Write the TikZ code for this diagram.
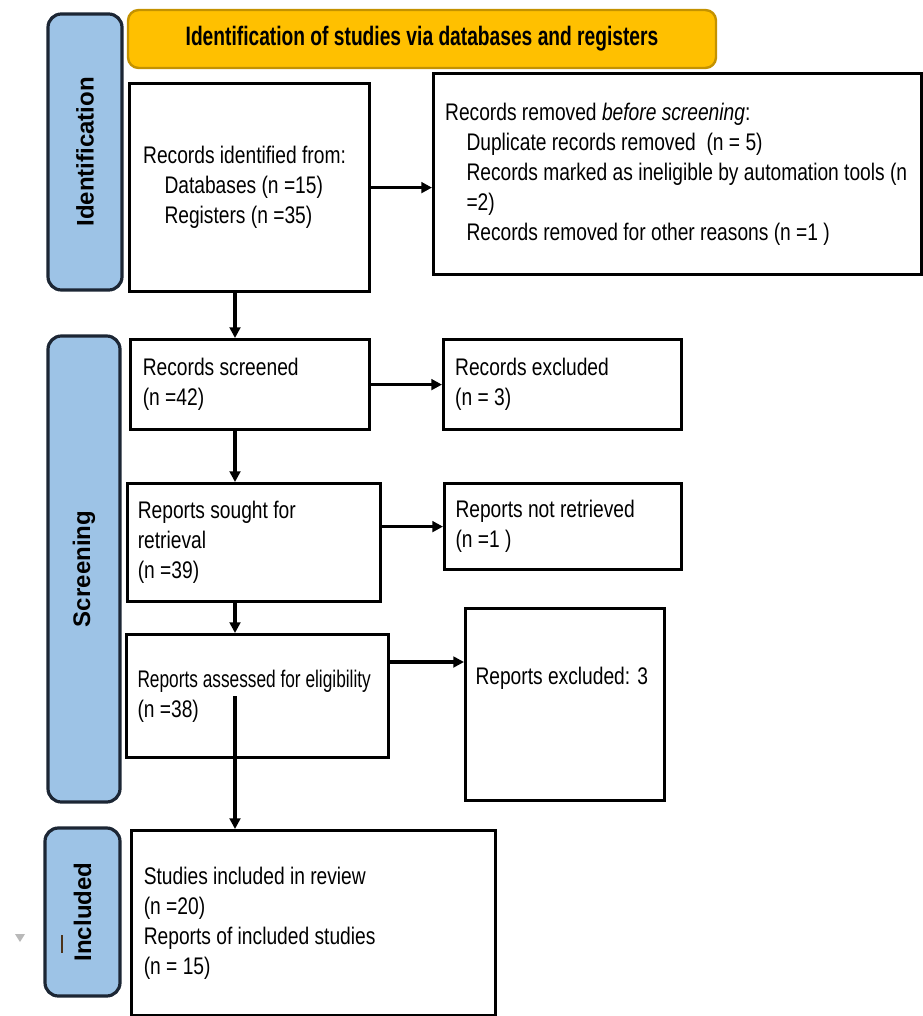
\documentclass[tikz,border=0pt]{standalone}
\usepackage{fontspec}
\setmainfont{Liberation Sans}[FakeStretch=0.8]
\newfontfamily\headfont{Liberation Sans}[FakeStretch=0.72]
\newfontfamily\tightfont{Liberation Sans}[FakeStretch=0.72]
\newfontfamily\sidefont{Liberation Sans}
\usetikzlibrary{arrows.meta,positioning}

\definecolor{sideblue}{RGB}{157,195,230}
\definecolor{sideline}{RGB}{28,38,52}
\definecolor{headgold}{RGB}{255,192,0}
\definecolor{headline}{RGB}{196,146,0}

\tikzset{every picture/.style={line width=0.75pt}}
\tikzset{
  box/.style={draw, line width=2.4pt, rectangle, anchor=north west, inner sep=0pt},
  txt/.style={anchor=west, inner sep=0pt, align=left, font=\fontsize{18}{22.5}\selectfont},
  side/.style={draw=sideline, fill=sideblue, line width=2.4pt, rounded corners=10pt, rotate=90, inner sep=0pt, font=\sidefont\bfseries\fontsize{18}{22}\selectfont},
  head/.style={draw=headline, fill=headgold, line width=1.8pt, rounded corners=8pt, inner sep=0pt, font=\headfont\bfseries\fontsize{20}{24}\selectfont},
  flow/.style={line width=2.4pt, -{Triangle[length=8pt,width=8pt]}},
}

\begin{document}
\begin{tikzpicture}[x=0.75pt,y=0.75pt,yscale=-1,xscale=1]
		\useasboundingbox (0,0) rectangle (922,1016);
		
		%Header
		\node [head, minimum width=441pt, minimum height=43.5pt] (head) at (422,39) {Identification of studies via databases and registers};
		
		%Phase labels
		\node [side, minimum width=207pt, minimum height=55.5pt] (idlab) at (85,152) {Identification};
		\node [side, minimum width=349.5pt, minimum height=54pt] (scrlab) at (84,569) {Screening};
		\node [side, minimum width=126pt, minimum height=56.25pt] (inclab) at (82.5,912) {Included};
		
		%Boxes
		\node [box, minimum width=180pt, minimum height=156pt] (ident) at (128,82) {};
		\node [box, minimum width=366pt, minimum height=150.75pt] (removed) at (432,72) {};
		\node [box, minimum width=179.25pt, minimum height=67.5pt] (screened) at (129,338) {};
		\node [box, minimum width=178.5pt, minimum height=67.5pt] (excluded) at (442,338) {};
		\node [box, minimum width=189.75pt, minimum height=88.5pt] (sought) at (126,482) {};
		\node [box, minimum width=177.75pt, minimum height=64.5pt] (notret) at (443,482) {};
		\node [box, minimum width=196.5pt, minimum height=92.25pt] (assessed) at (125,633) {};
		\node [box, minimum width=149.25pt, minimum height=144pt] (rexcl) at (464,607) {};
		\node [box, minimum width=273pt, minimum height=138.75pt] (incl) at (130,829) {};
		
		% Text Node
		\node [txt] (identtxt) at ([xshift=11pt]ident.west) {Records identified from:\\\hspace*{16pt}Databases (n =15)\\\hspace*{16pt}Registers (n =35)};
		% Text Node
		\node [txt] (removedtxt) at ([xshift=9.5pt]removed.west) {Records removed \textit{before screening}:\\\hspace*{16pt}Duplicate records removed\ \ (n = 5)\\\hspace*{16pt}Records marked as ineligible by automation tools (n\\\hspace*{16pt}=2)\\\hspace*{16pt}Records removed for other reasons (n =1 )};
		% Text Node
		\node [txt] (screenedtxt) at ([xshift=10pt]screened.west) {Records screened\\(n =42)};
		% Text Node
		\node [txt] (excludedtxt) at ([xshift=9.5pt]excluded.west) {Records excluded\\(n = 3)};
		% Text Node
		\node [txt] (soughttxt) at ([xshift=8.5pt]sought.west) {Reports sought for\\retrieval\\(n =39)};
		% Text Node
		\node [txt] (notrettxt) at ([xshift=9pt]notret.west) {Reports not retrieved\\(n =1 )};
		% Text Node
		\node [txt] (assessedtxt) at ([xshift=9pt]assessed.west) {{\tightfont Reports assessed for eligibility}\\(n =38)};
		% Text Node
		\node [txt, anchor=north west] (rexcltxt) at ([xshift=8.25pt,yshift=45pt]rexcl.north west) {Reports excluded: 3};
		% Text Node
		\node [txt] (incltxt) at ([xshift=10pt]incl.west) {Studies included in review\\(n =20)\\Reports of included studies\\(n = 15)};
		
		%Arrows
		\coordinate (spine) at (235,0);
		\coordinate (elig) at ([yshift=21.75pt]assessed.north east);
		\draw [flow] (ident.east) -- (ident.east -| removed.west);
		\draw [flow] (ident.south -| spine) -- (screened.north -| spine);
		\draw [flow] (screened.east) -- (excluded.west);
		\draw [flow] (screened.south -| spine) -- (sought.north -| spine);
		\draw [flow] (sought.east |- notret.west) -- (notret.west);
		\draw [flow] (sought.south -| spine) -- (assessed.north -| spine);
		\draw [flow] (elig) -- (elig -| rexcl.west);
		\draw [flow] (assessed.center -| spine) -- (incl.north -| spine);
		
		%Marks
		\fill [gray!55] (15,934) -- (25,934) -- (20,942) -- cycle;
		\draw [line width=1.5pt, brown!40!black] (62,935) -- (62,953);
		
\end{tikzpicture}
\end{document}
